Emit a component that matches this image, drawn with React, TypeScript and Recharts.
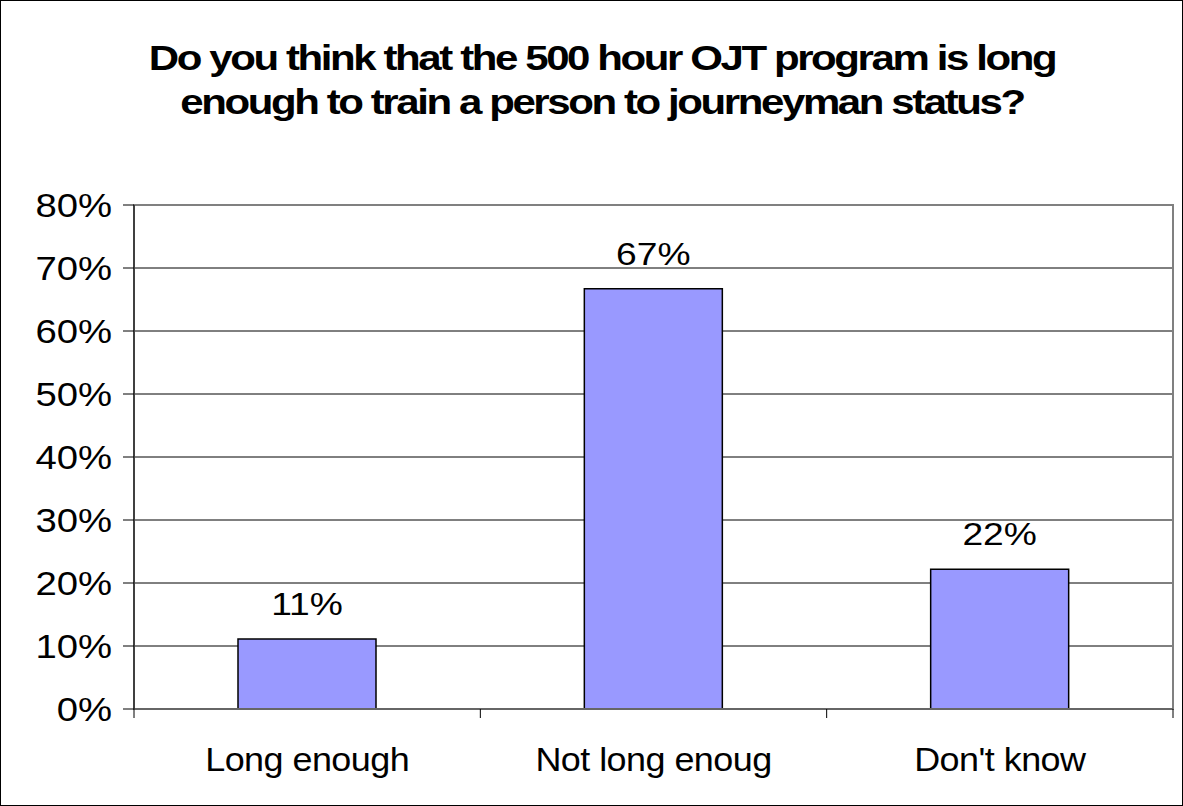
import React from 'react';
import { BarChart, Bar, XAxis, YAxis, CartesianGrid, LabelList, ReferenceArea } from 'recharts';

const categories = ['Long enough', 'Not long enoug', "Don't know"];
const values = [11.1, 66.7, 22.2];
const valueLabels = ['11%', '67%', '22%'];
const yTicks = [0, 10, 20, 30, 40, 50, 60, 70, 80];
const titleLines = [
  'Do you think that the 500 hour OJT program is long',
  'enough to train a person to journeyman status?',
];

const data = categories.map((c, i) => ({ name: c, value: values[i], label: valueLabels[i] }));

const W = 1183;
const H = 806;
const M = { top: 205, right: 10, left: 0, bottom: 0 };
const Y_W = 134;
const PLOT_W = W - M.right - Y_W;
const FONT = 'Arial, "Liberation Sans", sans-serif';

const XTick = (props: any) => {
  const { x, y, payload, index } = props;
  const half = PLOT_W / categories.length / 2;
  const top = y - 8;
  return (
    <g>
      <line x1={x - half} y1={top} x2={x - half} y2={top + 9} stroke="#000" strokeWidth={1} />
      {index === categories.length - 1 && (
        <line x1={x + half} y1={top} x2={x + half} y2={top + 9} stroke="#000" strokeWidth={1} />
      )}
      <text
        transform={`translate(${x},${top + 62}) scale(1.09,1)`}
        textAnchor="middle"
        fontSize={33}
        fontFamily={FONT}
        fill="#000"
        letterSpacing={-0.5}
      >
        {payload.value}
      </text>
    </g>
  );
};

const YTick = (props: any) => {
  const { x, y, payload } = props;
  return (
    <text
      transform={`translate(${x},${y}) scale(1.16,1)`}
      textAnchor="end"
      dy="0.355em"
      fontSize={33}
      fontFamily={FONT}
      fill="#000"
    >
      {`${payload.value}%`}
    </text>
  );
};

const ValueLabel = (props: any) => {
  const { x, y, width, value } = props;
  return (
    <text
      transform={`translate(${x + width / 2},${y - 24}) scale(1.2,1)`}
      textAnchor="middle"
      fontSize={31}
      fontFamily={FONT}
      fill="#000"
    >
      {value}
    </text>
  );
};

export default function App() {
  return (
    <div style={{ position: 'absolute', left: 0, top: 0, width: W, height: H, background: '#fff' }}>
      <div
        style={{
          position: 'absolute', left: 0, top: 0, width: W, height: H,
          border: '1px solid #000', boxSizing: 'border-box', pointerEvents: 'none', zIndex: 2,
        }}
      />
      <svg width={W} height={150} style={{ position: 'absolute', left: 0, top: 0, zIndex: 1 }}>
        {titleLines.map((l, i) => (
          <text
            key={l}
            transform={`translate(602,${70 + i * 44}) scale(1.2,1)`}
            textAnchor="middle"
            fontFamily={FONT}
            fontWeight="bold"
            fontSize={35}
            letterSpacing={-2}
            fill="#000"
          >
            {l}
          </text>
        ))}
      </svg>
      <BarChart width={W} height={H} data={data} margin={M} style={{ position: 'absolute', left: 0, top: 0 }}>
        <CartesianGrid vertical={false} stroke="#000" strokeWidth={1} />
        <ReferenceArea y1={0} y2={80} fill="none" stroke="#808080" strokeWidth={2} ifOverflow="visible" />
        <XAxis
          dataKey="name"
          height={H - M.top - 504}
          axisLine={{ stroke: '#666', strokeWidth: 2 }}
          tickLine={false}
          tick={<XTick />}
          interval={0}
        />
        <YAxis
          width={Y_W}
          domain={[0, 80]}
          ticks={yTicks}
          interval={0}
          axisLine={{ stroke: '#000', strokeWidth: 1 }}
          tickLine={{ stroke: '#000' }}
          tickSize={11}
          tickMargin={11}
          tick={<YTick />}
        />
        <Bar dataKey="value" fill="#9999FF" stroke="#000" strokeWidth={1.5} barSize={138} isAnimationActive={false}>
          <LabelList dataKey="label" content={<ValueLabel />} />
        </Bar>
      </BarChart>
    </div>
  );
}
